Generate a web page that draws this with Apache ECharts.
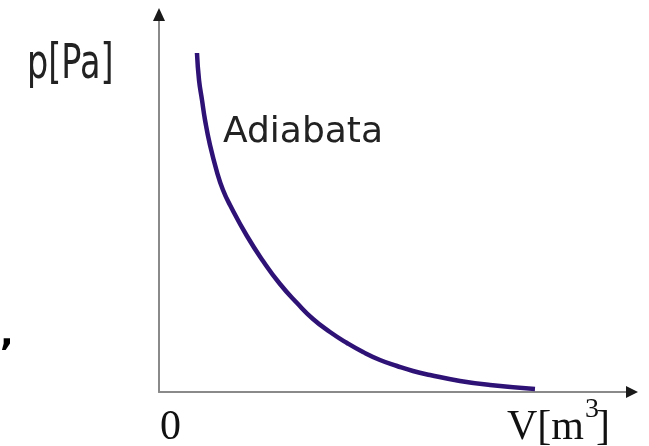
<!DOCTYPE html>
<html>
<head>
<meta charset="utf-8">
<script src="https://cdn.jsdelivr.net/npm/echarts@6/dist/echarts.min.js"></script>
<style>html,body{margin:0;padding:0;background:#fff;}#c{width:649px;height:446px;}</style>
</head>
<body>
<div id="c"></div>
<script>
// Adiabatic curve p(V), arbitrary units
const volume = [0.803,0.846,0.909,0.973,1.078,1.226,1.353,1.501,1.860,2.199,2.558,2.918,3.256,3.615,3.975,4.313,4.672,5.032,5.370,5.729,6.364,6.998,7.949];
const pressure = [8.968,8.254,7.725,7.196,6.534,5.820,5.344,4.947,4.127,3.466,2.857,2.354,1.931,1.587,1.296,1.058,0.847,0.688,0.556,0.450,0.291,0.185,0.079];
const yLabel = 'p[Pa]';
const curveLabel = 'Adiabata';
const originLabel = '0';
const xLabelMain = 'V[m';
const xLabelSup = '3';
const xLabelEnd = ']';
const axisMax = 10;

const chart = echarts.init(document.getElementById('c'), null, {renderer: 'canvas'});
const axisCommon = {
  type: 'value', min: 0, max: axisMax,
  axisLine: {show: true, onZero: false, lineStyle: {color: '#8a8a8a', width: 2}},
  axisTick: {show: false}, axisLabel: {show: false}, splitLine: {show: false}
};
chart.setOption({
  animation: false,
  backgroundColor: '#ffffff',
  grid: {left: 159, right: 17, top: 14, bottom: 54},
  xAxis: axisCommon,
  yAxis: axisCommon,
  series: [{
    type: 'line', smooth: 0.5, symbol: 'none', clip: false,
    data: volume.map((v, i) => [v, pressure[i]]),
    lineStyle: {color: '#2f1275', width: 4.5}
  }]
});

// arrowheads at axis ends, positioned through the chart's own coordinate conversion
const xEnd = chart.convertToPixel({gridIndex: 0}, [axisMax, 0]);
const yEnd = chart.convertToPixel({gridIndex: 0}, [0, axisMax]);
chart.setOption({
  graphic: [
    {id: 'ylab', type: 'text', x: 27, y: 65.6, scaleX: 0.93, scaleY: 1.33,
      style: {text: yLabel, font: '36px "DejaVu Sans"', fill: '#222', verticalAlign: 'middle', align: 'left'}},
    {id: 'curvelab', type: 'text', x: 223, y: 132.3,
      style: {text: curveLabel, font: '36px "DejaVu Sans"', fill: '#222', verticalAlign: 'middle', align: 'left'}},
    {id: 'comma', type: 'text', x: 0, y: 336,
      style: {text: ',', font: 'bold 36px "DejaVu Sans"', fill: '#000', verticalAlign: 'middle', align: 'left'}},
    {id: 'origin', type: 'text', x: 160, y: 428,
      style: {text: originLabel, font: '42px "Liberation Serif"', fill: '#111', verticalAlign: 'middle', align: 'left'}},
    {id: 'xmain', type: 'text', x: 507, y: 428,
      style: {text: xLabelMain, font: '42px "Liberation Serif"', fill: '#111', verticalAlign: 'middle', align: 'left'}},
    {id: 'xsup', type: 'text', x: 585, y: 410,
      style: {text: xLabelSup, font: '28px "Liberation Serif"', fill: '#111', verticalAlign: 'middle', align: 'left'}},
    {id: 'xend', type: 'text', x: 596, y: 428,
      style: {text: xLabelEnd, font: '42px "Liberation Serif"', fill: '#111', verticalAlign: 'middle', align: 'left'}},
    {id: 'xarrow', type: 'polygon', z: 10,
      shape: {points: [[xEnd[0] + 6, xEnd[1]], [xEnd[0] - 6, xEnd[1] - 6], [xEnd[0] - 6, xEnd[1] + 6]]},
      style: {fill: '#1a1a1a'}},
    {id: 'yarrow', type: 'polygon', z: 10,
      shape: {points: [[yEnd[0], yEnd[1] - 6], [yEnd[0] - 6, yEnd[1] + 7], [yEnd[0] + 6, yEnd[1] + 7]]},
      style: {fill: '#1a1a1a'}}
  ]
});
</script>
</body>
</html>
